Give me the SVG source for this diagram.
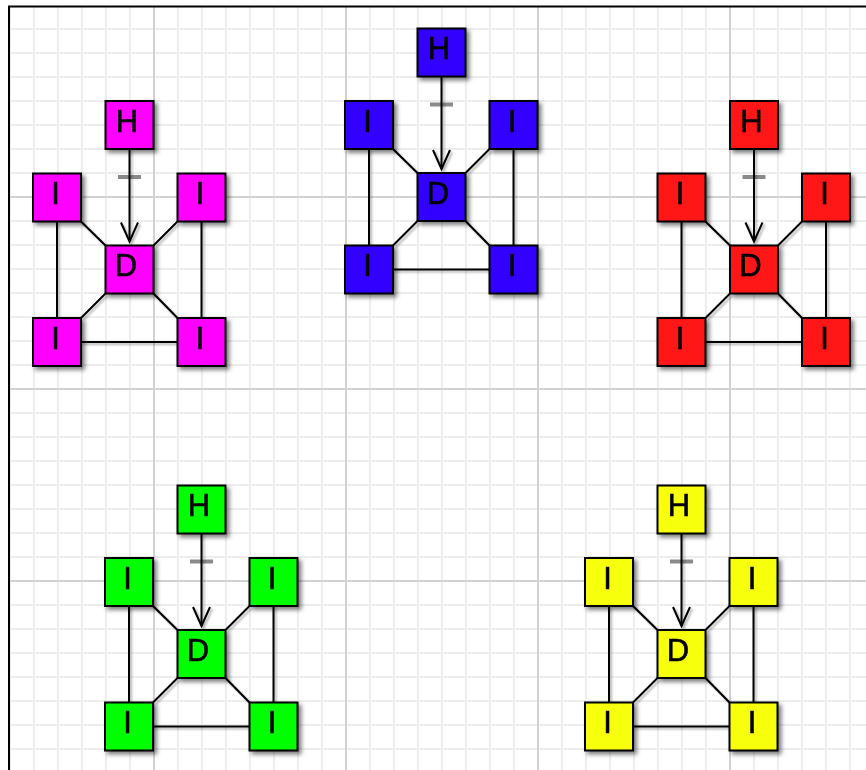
<svg xmlns="http://www.w3.org/2000/svg" width="866" height="770" viewBox="0 0 866 770">
<style>
.node rect{stroke:#000;stroke-width:2}
.node text{font-family:"Liberation Sans",Arial,sans-serif;font-size:31px;fill:#000;stroke:#000;stroke-width:0.6;text-anchor:middle}
.edge{fill:none;stroke:#000;stroke-width:2}
.dash{fill:none;stroke:#8a8a8a;stroke-width:4}
.mag rect{fill:#ff00ff}
.blu rect{fill:#3000ff}
.red rect{fill:#ff1414}
.grn rect{fill:#00ff00}
.yel rect{fill:#f7ff0c}
</style>
<defs>
<pattern id="minor" patternUnits="userSpaceOnUse" x="9" y="4" width="24" height="24">
<rect x="0" y="0" width="2" height="24" fill="#ededed"/>
<rect x="0" y="0" width="24" height="2" fill="#ededed"/>
</pattern>
<pattern id="major" patternUnits="userSpaceOnUse" x="153" y="196" width="192" height="192">
<rect x="0" y="0" width="2" height="192" fill="#d2d2d2"/>
<rect x="0" y="0" width="192" height="2" fill="#d2d2d2"/>
</pattern>
<filter id="sh" filterUnits="userSpaceOnUse" x="-200" y="-200" width="1300" height="1200">
<feDropShadow dx="3" dy="3" stdDeviation="2" flood-color="#000" flood-opacity="0.5"/>
</filter>
<filter id="shl" filterUnits="userSpaceOnUse" x="-200" y="-200" width="1300" height="1200">
<feDropShadow dx="2" dy="2" stdDeviation="1.2" flood-color="#000" flood-opacity="0.3"/>
</filter>
<marker id="arr" markerUnits="userSpaceOnUse" viewBox="-24 -12 28 24" refX="0" refY="0" markerWidth="28" markerHeight="24" orient="auto" overflow="visible">
<path d="M-19,-8.5 L0,0 L-19,8.5" fill="none" stroke="#000" stroke-width="2"/>
</marker>
</defs>
<rect x="0" y="0" width="866" height="770" fill="#fff"/>
<rect x="9" y="6" width="857" height="764" fill="url(#minor)"/>
<rect x="9" y="6" width="857" height="764" fill="url(#major)"/>
<path d="M9 770 V6.5 H866" fill="none" stroke="#000" stroke-width="2"/>

<g id="connectors">
<g id="edges-magenta" transform="translate(33,101)">
<path class="dash" d="M85 76 H108"/>
<g filter="url(#shl)">
<path class="edge" d="M96.5 48 V140.5" marker-end="url(#arr)"/>
<path class="edge" d="M48 120.5 L72.5 144.5 M144.5 120.5 L120.5 144.5 M72.5 192.5 L48 217 M120.5 192.5 L144.5 217 M24 120.5 V217 M168.5 120.5 V217 M48 241 H144.5"/>
</g>
</g>
<g id="edges-blue" transform="translate(345,28.5)">
<path class="dash" d="M85 76 H108"/>
<g filter="url(#shl)">
<path class="edge" d="M96.5 48 V140.5" marker-end="url(#arr)"/>
<path class="edge" d="M48 120.5 L72.5 144.5 M144.5 120.5 L120.5 144.5 M72.5 192.5 L48 217 M120.5 192.5 L144.5 217 M24 120.5 V217 M168.5 120.5 V217 M48 241 H144.5"/>
</g>
</g>
<g id="edges-red" transform="translate(657.5,101)">
<path class="dash" d="M85 76 H108"/>
<g filter="url(#shl)">
<path class="edge" d="M96.5 48 V140.5" marker-end="url(#arr)"/>
<path class="edge" d="M48 120.5 L72.5 144.5 M144.5 120.5 L120.5 144.5 M72.5 192.5 L48 217 M120.5 192.5 L144.5 217 M24 120.5 V217 M168.5 120.5 V217 M48 241 H144.5"/>
</g>
</g>
<g id="edges-green" transform="translate(105,485.5)">
<path class="dash" d="M85 76 H108"/>
<g filter="url(#shl)">
<path class="edge" d="M96.5 48 V140.5" marker-end="url(#arr)"/>
<path class="edge" d="M48 120.5 L72.5 144.5 M144.5 120.5 L120.5 144.5 M72.5 192.5 L48 217 M120.5 192.5 L144.5 217 M24 120.5 V217 M168.5 120.5 V217 M48 241 H144.5"/>
</g>
</g>
<g id="edges-yellow" transform="translate(585,485.5)">
<path class="dash" d="M85 76 H108"/>
<g filter="url(#shl)">
<path class="edge" d="M96.5 48 V140.5" marker-end="url(#arr)"/>
<path class="edge" d="M48 120.5 L72.5 144.5 M144.5 120.5 L120.5 144.5 M72.5 192.5 L48 217 M120.5 192.5 L144.5 217 M24 120.5 V217 M168.5 120.5 V217 M48 241 H144.5"/>
</g>
</g>
</g>

<g id="cluster-magenta" class="mag" transform="translate(33,101)" filter="url(#sh)">
<g id="magenta-H" class="node"><rect x="72.5" y="0" width="48" height="48"/><text x="94" y="30.5">H</text></g>
<g id="magenta-I1" class="node"><rect x="0" y="72.5" width="48" height="48"/><text x="22.5" y="103">I</text></g>
<g id="magenta-I2" class="node"><rect x="144.5" y="72.5" width="48" height="48"/><text x="167" y="103">I</text></g>
<g id="magenta-D" class="node"><rect x="72.5" y="144.5" width="48" height="48"/><text x="93" y="175">D</text></g>
<g id="magenta-I3" class="node"><rect x="0" y="217" width="48" height="48"/><text x="22.5" y="247.5">I</text></g>
<g id="magenta-I4" class="node"><rect x="144.5" y="217" width="48" height="48"/><text x="167" y="247.5">I</text></g>
</g>

<g id="cluster-blue" class="blu" transform="translate(345,28.5)" filter="url(#sh)">
<g id="blue-H" class="node"><rect x="72.5" y="0" width="48" height="48"/><text x="94" y="30.5">H</text></g>
<g id="blue-I1" class="node"><rect x="0" y="72.5" width="48" height="48"/><text x="22.5" y="103">I</text></g>
<g id="blue-I2" class="node"><rect x="144.5" y="72.5" width="48" height="48"/><text x="167" y="103">I</text></g>
<g id="blue-D" class="node"><rect x="72.5" y="144.5" width="48" height="48"/><text x="93" y="175">D</text></g>
<g id="blue-I3" class="node"><rect x="0" y="217" width="48" height="48"/><text x="22.5" y="247.5">I</text></g>
<g id="blue-I4" class="node"><rect x="144.5" y="217" width="48" height="48"/><text x="167" y="247.5">I</text></g>
</g>

<g id="cluster-red" class="red" transform="translate(657.5,101)" filter="url(#sh)">
<g id="red-H" class="node"><rect x="72.5" y="0" width="48" height="48"/><text x="94" y="30.5">H</text></g>
<g id="red-I1" class="node"><rect x="0" y="72.5" width="48" height="48"/><text x="22.5" y="103">I</text></g>
<g id="red-I2" class="node"><rect x="144.5" y="72.5" width="48" height="48"/><text x="167" y="103">I</text></g>
<g id="red-D" class="node"><rect x="72.5" y="144.5" width="48" height="48"/><text x="93" y="175">D</text></g>
<g id="red-I3" class="node"><rect x="0" y="217" width="48" height="48"/><text x="22.5" y="247.5">I</text></g>
<g id="red-I4" class="node"><rect x="144.5" y="217" width="48" height="48"/><text x="167" y="247.5">I</text></g>
</g>

<g id="cluster-green" class="grn" transform="translate(105,485.5)" filter="url(#sh)">
<g id="green-H" class="node"><rect x="72.5" y="0" width="48" height="48"/><text x="94" y="30.5">H</text></g>
<g id="green-I1" class="node"><rect x="0" y="72.5" width="48" height="48"/><text x="22.5" y="103">I</text></g>
<g id="green-I2" class="node"><rect x="144.5" y="72.5" width="48" height="48"/><text x="167" y="103">I</text></g>
<g id="green-D" class="node"><rect x="72.5" y="144.5" width="48" height="48"/><text x="93" y="175">D</text></g>
<g id="green-I3" class="node"><rect x="0" y="217" width="48" height="48"/><text x="22.5" y="247.5">I</text></g>
<g id="green-I4" class="node"><rect x="144.5" y="217" width="48" height="48"/><text x="167" y="247.5">I</text></g>
</g>

<g id="cluster-yellow" class="yel" transform="translate(585,485.5)" filter="url(#sh)">
<g id="yellow-H" class="node"><rect x="72.5" y="0" width="48" height="48"/><text x="94" y="30.5">H</text></g>
<g id="yellow-I1" class="node"><rect x="0" y="72.5" width="48" height="48"/><text x="22.5" y="103">I</text></g>
<g id="yellow-I2" class="node"><rect x="144.5" y="72.5" width="48" height="48"/><text x="167" y="103">I</text></g>
<g id="yellow-D" class="node"><rect x="72.5" y="144.5" width="48" height="48"/><text x="93" y="175">D</text></g>
<g id="yellow-I3" class="node"><rect x="0" y="217" width="48" height="48"/><text x="22.5" y="247.5">I</text></g>
<g id="yellow-I4" class="node"><rect x="144.5" y="217" width="48" height="48"/><text x="167" y="247.5">I</text></g>
</g>
</svg>
